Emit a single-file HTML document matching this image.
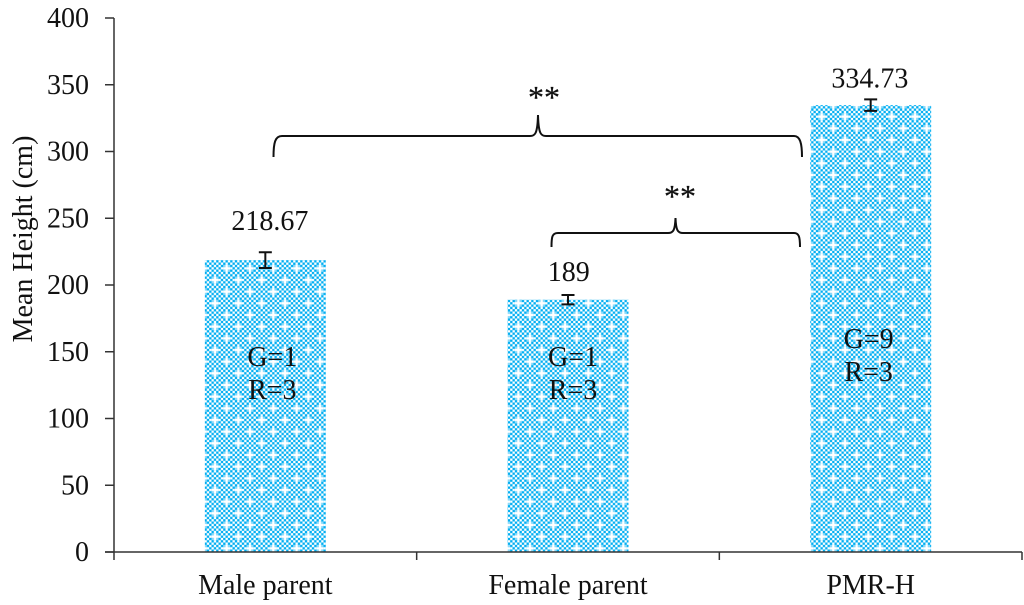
<!DOCTYPE html>
<html>
<head>
<meta charset="utf-8">
<style>
html,body{margin:0;padding:0;background:#fff;width:1024px;height:605px;overflow:hidden}
svg{display:block}
text{font-family:"Liberation Serif",serif;fill:#111}
</style>
</head>
<body>
<svg id="chart" xmlns="http://www.w3.org/2000/svg" width="1024" height="605" viewBox="0 0 1024 605">
<defs>
<pattern id="dots" patternUnits="userSpaceOnUse" width="23.333" height="23.333" patternTransform="translate(-0.83,-1.17)">
<rect width="23.333" height="23.333" fill="#00aef2"/>
<g id="checks"></g>
</pattern>
</defs>
<g id="bars"></g>
<g id="errors"></g>
<g id="axes"></g>
<g id="labels"></g>
<text transform="translate(32,239) rotate(-90)" text-anchor="middle" font-size="28">Mean Height (cm)</text>
<path d="M273.500 157 C273.500 143 275 136 282 136 L530 136 C535 136 537.500 134 538 115 C538.500 134 541 136 546 136 L794 136 C800 136 802 143 802 157" fill="none" stroke="#111" stroke-width="2"/>
<text x="544" y="108" text-anchor="middle" font-size="32" stroke="#111" stroke-width="0.25">**</text>
<path d="M551.500 247 C551.500 237 552 233 558 233 L668 233 C673 233 675 231 675.500 218 C676 231 678 233 683 233 L794 233 C799 233 800 237 800 247" fill="none" stroke="#111" stroke-width="2"/>
<text x="680" y="207" text-anchor="middle" font-size="32" stroke="#111" stroke-width="0.25">**</text>
</svg>
<script>
const categories = ['Male parent', 'Female parent', 'PMR-H'];
const means = [218.67, 189, 334.73];
const errors = [5.9, 3.5, 4.3];
const valueLabels = ['218.67', '189', '334.73'];
const tickLabels = [0, 50, 100, 150, 200, 250, 300, 350, 400];
const genLabels = ['G=1', 'G=1', 'G=9'];
const repLabels = ['R=3', 'R=3', 'R=3'];

const NS = 'http://www.w3.org/2000/svg';
const plot = {left: 114, right: 1022, bottom: 552, top: 18, max: 400};
const yScale = v => plot.bottom - (v / plot.max) * (plot.bottom - plot.top);
const band = (plot.right - plot.left) / categories.length;
const xCenter = i => plot.left + band * (i + 0.5);
const barWidth = 121;
const valueLabelGap = [22, 14, 12];
const valueLabelShift = [4.5, 0.7, -0.8];
const textShift = [7, 5, -2];
const genBaseline = [366, 366, 348];
const repBaseline = [399, 399, 381];

function make(tag, attrs, parent, text) {
  const el = document.createElementNS(NS, tag);
  for (const k in attrs) el.setAttribute(k, attrs[k]);
  if (text !== undefined) el.textContent = text;
  parent.appendChild(el);
  return el;
}

/* hatch pattern: 10x10 checker cells with two white plus-shaped dots */
const checks = document.getElementById('checks');
const cell = 23.333 / 10;
const plusCenters = [[2, 0], [7, 5]];
const isPlusCorner = (c, r) => plusCenters.some(function (p) {
  const dc = Math.abs(c - p[0]);
  const dr = Math.min(Math.abs(r - p[1]), 10 - Math.abs(r - p[1]));
  return dc === 1 && dr === 1;
});
for (let r = 0; r < 10; r++) {
  for (let c = 0; c < 10; c++) {
    if ((r + c) % 2 === 0) {
      make('rect', {x: c * cell, y: r * cell, width: cell, height: cell, fill: '#ffffff', opacity: isPlusCorner(c, r) ? 0.55 : 1}, checks);
    }
  }
}
plusCenters.forEach(function (p) {
  const x = p[0] * cell;
  const y = p[1] * cell;
  make('rect', {x: x - cell, y: y, width: cell * 3, height: cell, fill: '#ffffff'}, checks);
  make('rect', {x: x, y: y - cell, width: cell, height: cell * 3, fill: '#ffffff'}, checks);
  if (p[1] === 0) {
    make('rect', {x: x, y: y + 23.333 - cell, width: cell, height: cell, fill: '#ffffff'}, checks);
  }
});

/* bars */
const barsG = document.getElementById('bars');
const errG = document.getElementById('errors');
const labG = document.getElementById('labels');
categories.forEach(function (name, i) {
  const cx = xCenter(i);
  const bar = make('rect', {x: cx - barWidth / 2, y: yScale(means[i]), width: barWidth, height: plot.bottom - yScale(means[i]), fill: 'url(#dots)'}, barsG);
  
  

  const e = make('path', {
    d: 'M' + (cx - 6.500) + ' ' + yScale(means[i] + errors[i]) + 'H' + (cx + 6.500) +
       'M' + cx + ' ' + yScale(means[i] + errors[i]) + 'V' + yScale(means[i] - errors[i]) +
       'M' + (cx - 6.500) + ' ' + yScale(means[i] - errors[i]) + 'H' + (cx + 6.500),
    stroke: '#111', 'stroke-width': 2, fill: 'none'
  }, errG);
  
  

  const v = make('text', {x: cx + valueLabelShift[i], y: yScale(means[i] + errors[i]) - valueLabelGap[i], 'text-anchor': 'middle', 'font-size': 28}, labG, valueLabels[i]);
  
  

  const g = make('text', {x: cx + textShift[i], y: genBaseline[i], 'text-anchor': 'middle', 'font-size': 28}, labG, genLabels[i]);
  
  

  const r = make('text', {x: cx + textShift[i], y: repBaseline[i], 'text-anchor': 'middle', 'font-size': 28}, labG, repLabels[i]);
  
  

  const c = make('text', {x: cx, y: 594, 'text-anchor': 'middle', 'font-size': 28}, labG, name);
  
  
});

/* axes */
const axes = document.getElementById('axes');
const yAxis = make('line', {x1: plot.left, x2: plot.left, y1: plot.top, y2: 560, stroke: '#333', 'stroke-width': 1.5}, axes);


const xAxis = make('line', {x1: 105, x2: plot.right, y1: plot.bottom, y2: plot.bottom, stroke: '#333', 'stroke-width': 1.5}, axes);



tickLabels.forEach(function (t) {
  const y = yScale(t);
  const tk = make('line', {x1: 105, x2: plot.left, y1: y, y2: y, stroke: '#333', 'stroke-width': 1.5}, axes);
  
  
  const lb = make('text', {x: 89, y: y + 9, 'text-anchor': 'end', 'font-size': 28}, axes, String(t));
  
  
});
categories.forEach(function (_, i) {
  const x = plot.left + band * (i + 1);
  const tk = make('line', {x1: x, x2: x, y1: plot.bottom, y2: 560, stroke: '#333', 'stroke-width': 1.5}, axes);
  
  
});
</script>
</body>
</html>
